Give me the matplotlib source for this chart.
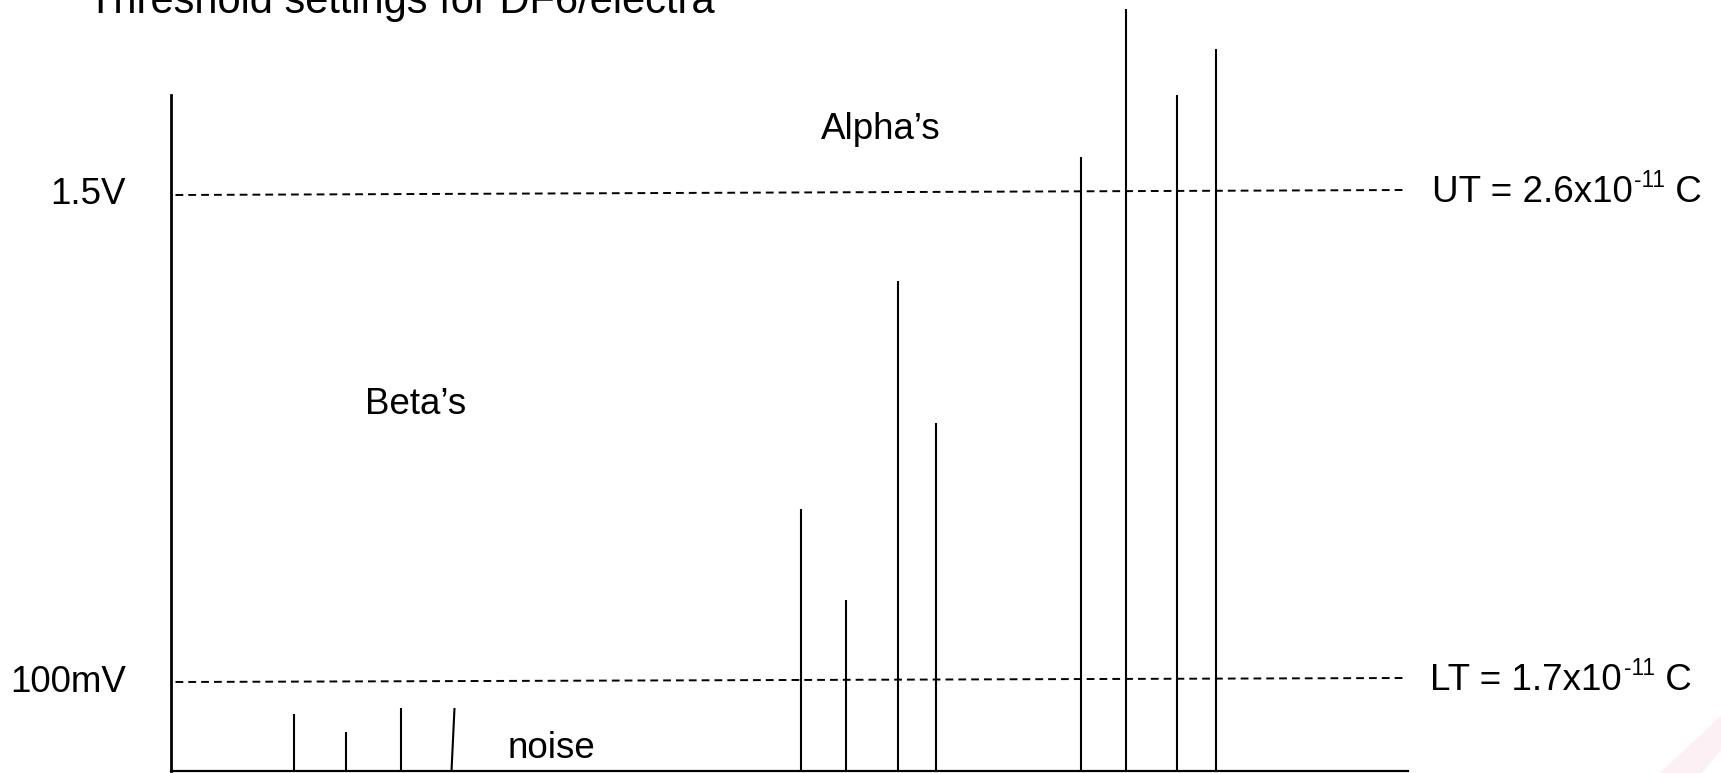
import matplotlib
matplotlib.use("Agg")
import matplotlib.pyplot as plt
from matplotlib.patches import Polygon
from matplotlib.transforms import offset_copy

plt.rcParams['font.family'] = ['Liberation Sans', 'DejaVu Sans']

# ---- data (schematic units) ----
title = "Threshold settings for DF6/electra"
noise_x = [12.35, 17.5, 23.0, 28.4]
noise_x_base = [12.35, 17.5, 23.0, 28.1]
noise_h = [5.7, 3.9, 6.3, 6.3]
beta_x = [63.05, 67.5, 72.75, 76.5]
beta_h = [26.2, 17.1, 49.0, 34.8]
alpha_x = [91.0, 95.55, 100.65, 104.55]
alpha_h = [61.4, 76.2, 67.6, 72.2]
ut_level = [57.6, 58.1]      # left, right
lt_level = [8.9, 9.3]        # left, right
threshold_span = [0.5, 123.4]
yaxis_top = 67.6
x_max = 123.75
ut_label = ["UT = 2.6x10", "-11", " C"]
lt_label = ["LT = 1.7x10", "-11", " C"]
ut_volt = "1.5V"
lt_volt = "100mV"

W, H = 1721, 773
fig = plt.figure(figsize=(W / 100, H / 100), dpi=100)
ax = fig.add_axes([170.5 / W, 2 / H, (1408 - 170.5) / W, 771 / H])
ax.set_xlim(0, x_max)
ax.set_ylim(0, 77.1)
ax.set_facecolor('none')
for s in ['top', 'right']:
    ax.spines[s].set_visible(False)
ax.spines['left'].set_bounds(0, yaxis_top)
ax.spines['left'].set_linewidth(2.0)
ax.spines['bottom'].set_linewidth(1.6)
ax.set_xticks([])
ax.set_yticks([])

lw = 1.5
for xb, xt, h in zip(noise_x_base, noise_x, noise_h):
    ax.plot([xb, xt], [0, h], color='black', lw=lw, clip_on=False, solid_capstyle='butt')
for xs, hs in ((beta_x, beta_h), (alpha_x, alpha_h)):
    ax.vlines(xs, 0, hs, color='black', lw=lw, clip_on=False)

for lev in (ut_level, lt_level):
    ax.plot(threshold_span, lev, color='black', lw=1.4, dashes=(4.0, 2.6), clip_on=False)

fs = 26.5
ax.text(-4.45, ut_level[0], ut_volt, ha='right', va='center', fontsize=fs)
ax.text(-4.45, lt_level[0], lt_volt, ha='right', va='center', fontsize=fs)
ax.text(65.05, 64.15, "Alpha\u2019s", ha='left', va='center', fontsize=fs)
ax.text(19.5, 36.7, "Beta\u2019s", ha='left', va='center', fontsize=fs)
ax.text(33.75, 2.2, "noise", ha='left', va='center', fontsize=fs)
ax.text(-8.25, 75.75, title, ha='left', va='baseline', fontsize=30, clip_on=False)

fig.canvas.draw()
renderer = fig.canvas.get_renderer()


def label_with_sup(x, y, parts):
    base, sup, tail = parts
    t1 = ax.text(x, y, base, ha='left', va='baseline', fontsize=fs)
    bb = t1.get_window_extent(renderer)
    tr = offset_copy(ax.transData, fig=fig, x=bb.width * 72 / fig.dpi + 1, y=11, units='points')
    t2 = ax.text(x, y, sup, ha='left', va='baseline', fontsize=fs * 0.62, transform=tr)
    bb2 = t2.get_window_extent(renderer)
    tr3 = offset_copy(ax.transData, fig=fig,
                      x=(bb.width + bb2.width) * 72 / fig.dpi + 1, y=0, units='points')
    ax.text(x, y, tail, ha='left', va='baseline', fontsize=fs, transform=tr3)


label_with_sup(126.1, 56.9, ut_label)
label_with_sup(126.0, 8.1, lt_label)

pts = [(1660, 773), (1702, 773), (1721, 750), (1721, 716)]
fig.patches.append(Polygon([(x / W, 1 - y / H) for x, y in pts], closed=True,
                           transform=fig.transFigure, facecolor='#fcf0f4',
                           edgecolor='none', zorder=0))

fig.savefig("out.png", dpi=100)
